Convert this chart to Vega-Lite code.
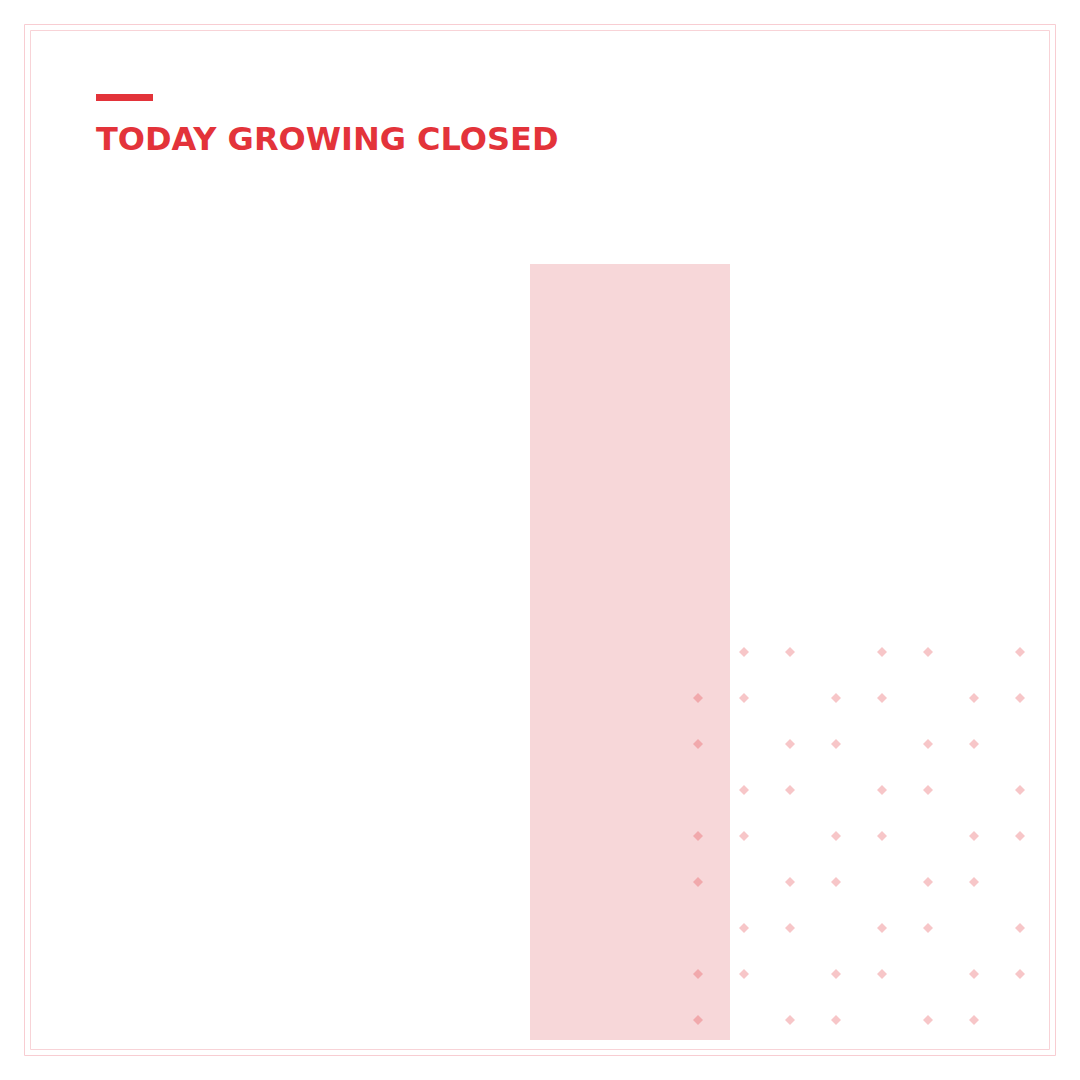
{
  "$schema": "https://vega.github.io/schema/vega-lite/v6.json",
  "width": 1080,
  "height": 1080,
  "padding": 0,
  "autosize": {"type": "none"},
  "background": "white",
  "config": {
    "view": {"stroke": null},
    "title": {
      "font": "DejaVu Sans",
      "fontSize": 32,
      "fontWeight": "bold",
      "color": "#e3333a",
      "anchor": "start",
      "frame": "group",
      "baseline": "alphabetic",
      "offset": 0
    }
  },
  "title": {"text": "TODAY GROWING CLOSED", "dx": 96, "dy": 161},
  "datasets": {
    "bars": [
      {"status": "Today", "value": 77.6}
    ],
    "dots": [
      {"col": 2, "row": 1}, {"col": 3, "row": 1}, {"col": 5, "row": 1}, {"col": 6, "row": 1}, {"col": 8, "row": 1},
      {"col": 1, "row": 2}, {"col": 2, "row": 2}, {"col": 4, "row": 2}, {"col": 5, "row": 2}, {"col": 7, "row": 2}, {"col": 8, "row": 2},
      {"col": 1, "row": 3}, {"col": 3, "row": 3}, {"col": 4, "row": 3}, {"col": 6, "row": 3}, {"col": 7, "row": 3},
      {"col": 2, "row": 4}, {"col": 3, "row": 4}, {"col": 5, "row": 4}, {"col": 6, "row": 4}, {"col": 8, "row": 4},
      {"col": 1, "row": 5}, {"col": 2, "row": 5}, {"col": 4, "row": 5}, {"col": 5, "row": 5}, {"col": 7, "row": 5}, {"col": 8, "row": 5},
      {"col": 1, "row": 6}, {"col": 3, "row": 6}, {"col": 4, "row": 6}, {"col": 6, "row": 6}, {"col": 7, "row": 6},
      {"col": 2, "row": 7}, {"col": 3, "row": 7}, {"col": 5, "row": 7}, {"col": 6, "row": 7}, {"col": 8, "row": 7},
      {"col": 1, "row": 8}, {"col": 2, "row": 8}, {"col": 4, "row": 8}, {"col": 5, "row": 8}, {"col": 7, "row": 8}, {"col": 8, "row": 8},
      {"col": 1, "row": 9}, {"col": 3, "row": 9}, {"col": 4, "row": 9}, {"col": 6, "row": 9}, {"col": 7, "row": 9}
    ],
    "frames": [
      {"frame": "outer"}
    ]
  },
  "layer": [
    {
      "data": {"name": "frames"},
      "mark": {"type": "rect", "filled": false, "stroke": "#f8cdd2", "strokeWidth": 1},
      "encoding": {
        "x": {"datum": 0, "type": "quantitative", "scale": {"domain": [0, 1], "range": [24.5, 1055.5]}, "axis": null},
        "x2": {"datum": 1},
        "y": {"datum": 0, "type": "quantitative", "scale": {"domain": [0, 1], "range": [24.5, 1055.5]}, "axis": null},
        "y2": {"datum": 1}
      }
    },
    {
      "data": {"name": "frames"},
      "mark": {"type": "rect", "filled": false, "stroke": "#f8d3d7", "strokeWidth": 1},
      "encoding": {
        "x": {"datum": 0, "type": "quantitative", "scale": {"domain": [0, 1], "range": [30.5, 1049.5]}, "axis": null},
        "x2": {"datum": 1},
        "y": {"datum": 0, "type": "quantitative", "scale": {"domain": [0, 1], "range": [30.5, 1049.5]}, "axis": null},
        "y2": {"datum": 1}
      }
    },
    {
      "data": {"name": "frames"},
      "mark": {"type": "rect", "color": "#e3333a"},
      "encoding": {
        "x": {"datum": 0, "type": "quantitative", "scale": {"domain": [0, 1], "range": [96, 153]}, "axis": null},
        "x2": {"datum": 1},
        "y": {"datum": 0, "type": "quantitative", "scale": {"domain": [0, 1], "range": [94, 101]}, "axis": null},
        "y2": {"datum": 1}
      }
    },
    {
      "data": {"name": "bars"},
      "mark": {"type": "bar", "color": "#f7d7d9"},
      "encoding": {
        "x": {"field": "status", "type": "nominal", "scale": {"range": [530, 730], "paddingInner": 0, "paddingOuter": 0}, "axis": null},
        "y": {"field": "value", "type": "quantitative", "scale": {"domain": [0, 100], "range": [1040, 40]}, "axis": null}
      }
    },
    {
      "data": {"name": "dots"},
      "mark": {"type": "point", "shape": "diamond", "filled": true, "size": 100, "color": "#e3333a", "opacity": 0.28, "strokeWidth": 0},
      "encoding": {
        "x": {"field": "col", "type": "quantitative", "scale": {"domain": [1, 8], "range": [698, 1020]}, "axis": null},
        "y": {"field": "row", "type": "quantitative", "scale": {"domain": [1, 9], "range": [652, 1020]}, "axis": null}
      }
    }
  ],
  "resolve": {"scale": {"x": "independent", "y": "independent"}}
}
